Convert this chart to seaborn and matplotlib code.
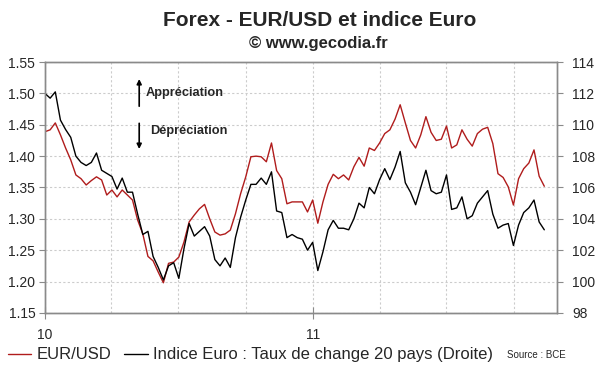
import pandas as pd
import matplotlib
matplotlib.use('Agg')
import matplotlib.pyplot as plt
import matplotlib.dates as mdates
from matplotlib.ticker import MultipleLocator, FormatStrFormatter
from matplotlib.lines import Line2D
import seaborn as sns

# weekly readings, Jan 2010 -> Nov 2011
eur_usd = [1.439, 1.442, 1.453, 1.434, 1.413, 1.394, 1.370, 1.364, 1.354, 1.361,
           1.367, 1.362, 1.338, 1.346, 1.335, 1.346, 1.338, 1.330, 1.298, 1.276,
           1.240, 1.233, 1.215, 1.198, 1.229, 1.231, 1.239, 1.263, 1.295, 1.306,
           1.316, 1.323, 1.300, 1.279, 1.274, 1.276, 1.282, 1.308, 1.340, 1.367,
           1.399, 1.400, 1.399, 1.391, 1.421, 1.377, 1.364, 1.324, 1.327, 1.327,
           1.327, 1.311, 1.330, 1.293, 1.327, 1.355, 1.371, 1.364, 1.370, 1.362,
           1.383, 1.398, 1.384, 1.413, 1.409, 1.421, 1.436, 1.442, 1.459, 1.482,
           1.453, 1.425, 1.413, 1.434, 1.463, 1.438, 1.425, 1.427, 1.448, 1.413,
           1.418, 1.442, 1.427, 1.416, 1.436, 1.443, 1.446, 1.420, 1.372, 1.366,
           1.351, 1.322, 1.364, 1.380, 1.389, 1.410, 1.368, 1.352]
indice_euro = [112.0, 111.7, 112.1, 110.3, 109.7, 109.2, 108.0, 107.6, 107.4, 107.6,
               108.2, 107.1, 106.9, 106.7, 105.9, 106.6, 105.7, 105.7, 104.3, 103.0,
               103.2, 101.6, 100.9, 100.1, 101.0, 101.2, 100.2, 102.1, 103.7, 102.9,
               103.2, 103.5, 102.9, 101.4, 101.0, 101.5, 100.9, 102.8, 104.1, 105.2,
               106.2, 106.2, 106.6, 106.2, 107.0, 104.5, 104.4, 102.8, 103.0, 102.8,
               102.7, 102.0, 102.5, 100.7, 101.9, 103.3, 103.9, 103.4, 103.4, 103.3,
               104.0, 105.0, 104.7, 106.0, 105.6, 106.5, 107.2, 106.5, 107.3, 108.3,
               106.3, 105.7, 104.9, 106.0, 107.1, 105.8, 105.6, 105.7, 106.8, 104.6,
               104.7, 105.4, 104.0, 104.2, 105.0, 105.4, 105.8, 104.3, 103.4, 103.6,
               103.7, 102.3, 103.6, 104.4, 104.7, 105.2, 103.8, 103.3]
dates = pd.date_range('2010-01-01', periods=len(eur_usd), freq='7D')

df = pd.DataFrame({'date': dates, 'eur': eur_usd, 'idx': indice_euro})

sns.set_style('white')
plt.rcParams['font.family'] = ['Liberation Sans', 'DejaVu Sans']

red = '#b01c1c'
grey = '#8a8a8a'
gridc = '#cccccc'

fig = plt.figure(figsize=(6, 3.72), dpi=100)
ax = fig.add_axes([0.075, 0.159, 0.853, 0.674])
ax2 = ax.twinx()

sns.lineplot(data=df, x='date', y='eur', ax=ax, color=red, lw=1)
sns.lineplot(data=df, x='date', y='idx', ax=ax2, color='black', lw=1)

ax.set_xlim(pd.Timestamp('2010-01-01'), pd.Timestamp('2011-11-28'))
ax.set_ylim(1.15, 1.55)
ax2.set_ylim(98, 114)
ax.yaxis.set_major_locator(MultipleLocator(0.05))
ax.yaxis.set_major_formatter(FormatStrFormatter('%.2f'))
ax2.yaxis.set_major_locator(MultipleLocator(2))

ax.xaxis.set_major_locator(mdates.YearLocator())
ax.xaxis.set_major_formatter(mdates.DateFormatter('%y'))
ax.xaxis.set_minor_locator(mdates.MonthLocator([4, 7, 10]))

for a in (ax, ax2):
    a.set_xlabel('')
    a.set_ylabel('')
    for s in a.spines.values():
        s.set_color(grey)
        s.set_linewidth(1)

ax.grid(True, axis='y', color=gridc, ls=(0, (2, 2)), lw=0.8)
ax.grid(True, axis='x', which='both', color=gridc, ls=(0, (2, 2)), lw=0.8)
ax2.grid(False)

ax.tick_params(axis='y', direction='out', length=4, color=grey, labelsize=10, pad=3,
               left=True)
ax2.tick_params(axis='y', direction='out', length=4, color=grey, labelsize=10, pad=7,
                right=True)
ax.tick_params(axis='x', which='major', direction='inout', length=8, color=grey,
               labelsize=10, pad=7, bottom=True)
ax.tick_params(axis='x', which='minor', length=0)

# titles
fig.text(0.532, 0.946, 'Forex - EUR/USD et indice Euro', ha='center', va='center',
         fontsize=15, weight='bold')
fig.text(0.53, 0.884, '\u00a9 www.gecodia.fr', ha='center', va='center',
         fontsize=12, weight='bold')

# appreciation / depreciation arrows
ax.annotate('', xy=(0.232, 0.795), xytext=(0.232, 0.707), xycoords='figure fraction',
            arrowprops=dict(arrowstyle='-|>', color='black', lw=1.2, mutation_scale=7))
ax.annotate('', xy=(0.232, 0.592), xytext=(0.232, 0.676), xycoords='figure fraction',
            arrowprops=dict(arrowstyle='-|>', color='black', lw=1.2, mutation_scale=7))
fig.text(0.243, 0.750, 'Appréciation', ha='left', va='center', fontsize=9.2, weight='bold')
fig.text(0.250, 0.648, 'Dépréciation', ha='left', va='center', fontsize=9.2, weight='bold')

# legend
handles = [Line2D([], [], color=red, lw=1), Line2D([], [], color='black', lw=1)]
labels = ['EUR/USD', 'Indice Euro : Taux de change 20 pays (Droite)']
fig.legend(handles, labels, loc='center left', bbox_to_anchor=(0.013, 0.046), ncol=2,
           frameon=False, fontsize=12, handlelength=1.4, handletextpad=0.3,
           columnspacing=0.8, borderpad=0, borderaxespad=0)
fig.text(0.845, 0.046, 'Source : BCE', ha='left', va='center', fontsize=7)

fig.savefig('out.png', dpi=100)
